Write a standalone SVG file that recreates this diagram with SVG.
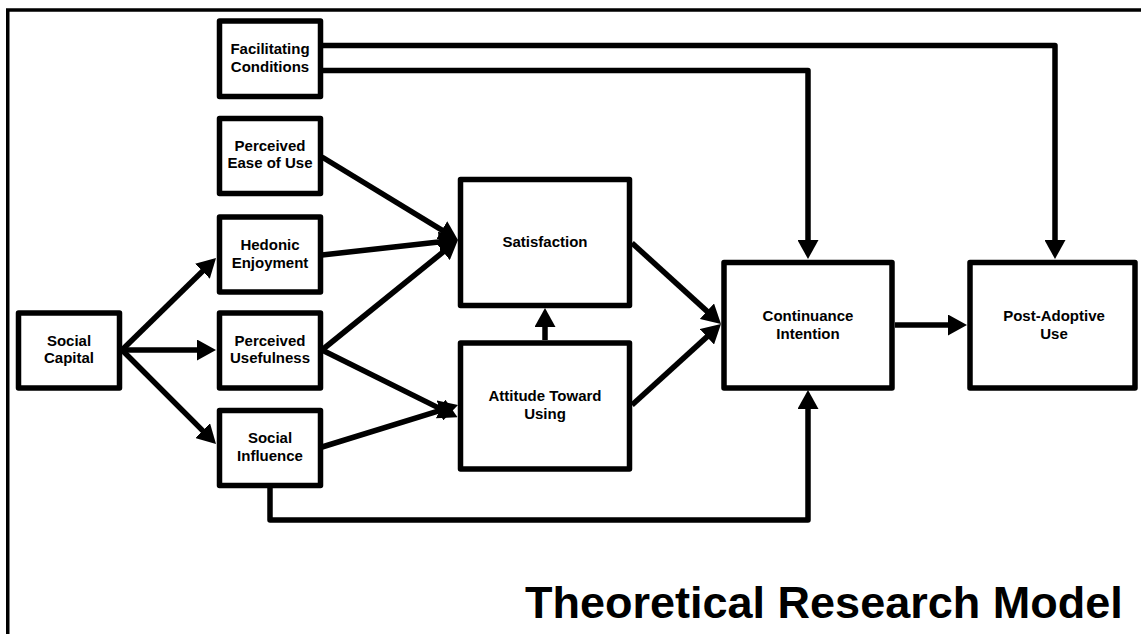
<svg xmlns="http://www.w3.org/2000/svg" width="1141" height="634" viewBox="0 0 1141 634">
  <style>
    .box { fill: #ffffff; stroke: #000000; stroke-width: 5.5; stroke-linejoin: round; }
    .lbl { font-family: "Liberation Sans", Arial, sans-serif; font-weight: bold; font-size: 15px; fill: #000000; text-anchor: middle; }
    .edge { fill: none; stroke: #000000; stroke-width: 5.5; stroke-linejoin: round; marker-end: url(#head); }
    .title { font-family: "Liberation Sans", Arial, sans-serif; font-weight: bold; font-size: 45px; fill: #000000; }
  </style>
  <defs>
    <marker id="head" markerUnits="userSpaceOnUse" markerWidth="19" markerHeight="21" refX="4" refY="10.5" orient="auto">
      <path d="M0,0 L19,10.5 L0,21 Z" fill="#000000"/>
    </marker>
  </defs>

  <rect width="1141" height="634" fill="#ffffff"/>
  <!-- outer frame (left and top edges) -->
  <path d="M7.75,634 V10 H1141" fill="none" stroke="#000000" stroke-width="3.5"/>

  <!-- connectors -->
  <g id="connectors">
    <path class="edge" d="M323,45.5 H1055 V244"/>
    <path class="edge" d="M323,70.5 H808 V244"/>
    <path class="edge" d="M270,488 V520 H808 V405"/>
    <path class="edge" d="M122,350 L205.3,268.5"/>
    <path class="edge" d="M122,350 L201,350"/>
    <path class="edge" d="M122,350 L205.4,433.4"/>
    <path class="edge" d="M322,157 L445.2,232.2"/>
    <path class="edge" d="M322,255 L443.1,241.6"/>
    <path class="edge" d="M322,350 L446.3,249.4"/>
    <path class="edge" d="M322,350 L444.1,410.6"/>
    <path class="edge" d="M322,447 L443.7,409.4"/>
    <path class="edge" d="M545,340 L545,323"/>
    <path class="edge" d="M632,243 L709.9,313.9"/>
    <path class="edge" d="M632,405 L709.9,334.1"/>
    <path class="edge" d="M895,325 L952,325"/>
  </g>

  <g id="facilitating-conditions">
    <rect class="box" x="219.5" y="21" width="101" height="75.5"/>
    <text class="lbl" x="270" y="54.3">Facilitating</text>
    <text class="lbl" x="270" y="71.7">Conditions</text>
  </g>
  <g id="perceived-ease-of-use">
    <rect class="box" x="219.5" y="118.5" width="101" height="75"/>
    <text class="lbl" x="270" y="150.7">Perceived</text>
    <text class="lbl" x="270" y="168.3">Ease of Use</text>
  </g>
  <g id="hedonic-enjoyment">
    <rect class="box" x="219.5" y="217" width="101" height="75"/>
    <text class="lbl" x="270" y="250">Hedonic</text>
    <text class="lbl" x="270" y="268">Enjoyment</text>
  </g>
  <g id="perceived-usefulness">
    <rect class="box" x="219.5" y="313" width="101" height="75"/>
    <text class="lbl" x="270" y="345.7">Perceived</text>
    <text class="lbl" x="270" y="363.3">Usefulness</text>
  </g>
  <g id="social-influence">
    <rect class="box" x="219.5" y="410.5" width="101" height="75"/>
    <text class="lbl" x="270" y="443.3">Social</text>
    <text class="lbl" x="270" y="461">Influence</text>
  </g>
  <g id="social-capital">
    <rect class="box" x="18.5" y="313" width="101" height="75"/>
    <text class="lbl" x="69" y="345.7">Social</text>
    <text class="lbl" x="69" y="363.3">Capital</text>
  </g>
  <g id="satisfaction">
    <rect class="box" x="460.5" y="179.5" width="169" height="126"/>
    <text class="lbl" x="545" y="246.7">Satisfaction</text>
  </g>
  <g id="attitude-toward-using">
    <rect class="box" x="460.5" y="343" width="169" height="126"/>
    <text class="lbl" x="545" y="400.7">Attitude Toward</text>
    <text class="lbl" x="545" y="419.3">Using</text>
  </g>
  <g id="continuance-intention">
    <rect class="box" x="724" y="262.5" width="168" height="125.5"/>
    <text class="lbl" x="808" y="321">Continuance</text>
    <text class="lbl" x="808" y="338.5">Intention</text>
  </g>
  <g id="post-adoptive-use">
    <rect class="box" x="970" y="262.5" width="165" height="125.5"/>
    <text class="lbl" x="1054" y="321">Post-Adoptive</text>
    <text class="lbl" x="1054" y="338.5">Use</text>
  </g>

  <text class="title" x="525" y="618">Theoretical Research Model</text>
</svg>
